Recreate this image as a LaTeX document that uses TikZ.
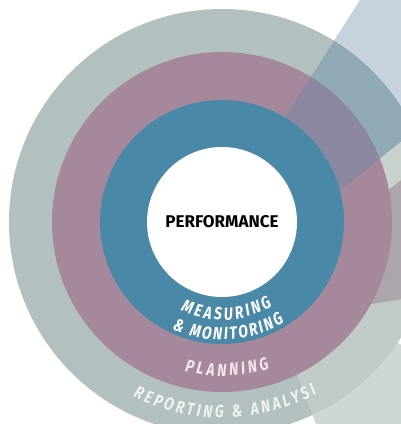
\documentclass[tikz,border=0pt]{standalone}
\usepackage{fontspec}
\setsansfont{Fira Sans}
\newfontfamily\ringfont[FakeStretch=0.8]{Fira Sans}
\usepackage{tikz}
\usetikzlibrary{decorations.text}

\definecolor{ringgrey}{HTML}{B2C0BF}
\definecolor{ringpink}{HTML}{A5889B}
\definecolor{ringblue}{HTML}{4A88A8}
\definecolor{beamblue}{HTML}{C6D3DE}
\definecolor{beamblueongrey}{HTML}{8FAAB4}
\definecolor{beamblueonpink}{HTML}{8B87A0}
\definecolor{beamgreen}{HTML}{C8D2CC}
\definecolor{beammauve}{HTML}{ACA5AC}
\definecolor{beamlight}{HTML}{CFD6D6}
\definecolor{beamlightongrey}{HTML}{C0CAC9}
\definecolor{pinktext}{HTML}{F4E6EE}
\definecolor{greytext}{HTML}{EEF2F2}

\newcommand{\ringtype}{\ringfont\bfseries\itshape\fontsize{17.5pt}{17.5pt}\selectfont}

\tikzset{
  ringlabel/.style={decorate, decoration={text along path, text={#1}, text align=fit to path, text color=white}},
}

\begin{document}
\begin{tikzpicture}[x=1pt, y=1pt, every node/.style={font=\sffamily}]
    \useasboundingbox (-222,-202) rectangle (179,222);

    % beams
    \coordinate (b1a) at (145,233);
    \coordinate (b1b) at (200,233);
    \coordinate (b1c) at (200,97);
    \coordinate (b1d) at (75,-3);
    \coordinate (b1e) at (33,57);
    \coordinate (b2c) at (200,58);
    \coordinate (b2d) at (78,-36);
    \coordinate (b3c) at (200,-74);
    \coordinate (b3d) at (78,-93);
    \coordinate (b4a) at (28,-28);
    \coordinate (b4b) at (208,-141);
    \coordinate (b4c) at (208,-218);
    \coordinate (b4d) at (100,-218);

    \fill [beamblue] (b1a) -- (b1b) -- (b1c) -- (b1d) -- (b1e) -- cycle;
    \fill [beamlight] (b4a) -- (b4b) -- (b4c) -- (b4d) -- cycle;

    % outer ring
    \fill [ringgrey] (0,0) circle (213);
    \begin{scope}
        \clip (0,0) circle (213);
        \fill [beamblueongrey] (b1a) -- (b1b) -- (b1c) -- (b1d) -- (b1e) -- cycle;
        \fill [beamgreen] (b1c) -- (b2c) -- (b2d) -- (b1d) -- cycle;
        \fill [beamlightongrey] (b3d) -- (b3c) -- (b4c) -- (b4d) -- (b4a) -- cycle;
        \fill [beammauve] (b2c) -- (b3c) -- (b3d) -- (b2d) -- cycle;
    \end{scope}

    % middle ring
    \fill [ringpink] (0,0) circle (170);
    \begin{scope}
        \clip (0,0) circle (170);
        \fill [beamblueonpink] (b1a) -- (b1b) -- (b1c) -- (b1d) -- (b1e) -- cycle;
    \end{scope}

    % inner ring and core
    \fill [ringblue] (0,0) circle (122);
    \node [circle, fill=white, minimum size=150pt, inner sep=0pt, font=\sffamily\bfseries\fontsize{17pt}{17pt}\selectfont] (core) at (0,0) {PERFORMANCE};

    % ring labels
    \path [ringlabel={|\ringtype|MEASURING}] (245:98) arc [start angle=245, end angle=301, radius=98];
    \path [ringlabel={|\ringtype|{\&} MONITORING}] (245:118) arc [start angle=245, end angle=302, radius=118];
    \path [ringlabel={|\ringtype|PLANNING}, decoration={text color=pinktext}] (256:154) arc [start angle=256, end angle=288, radius=154];
    \path [ringlabel={|\ringtype|REPORTING {\&} ANALYSI}, decoration={text color=greytext}] (243:196) arc [start angle=243, end angle=299, radius=196];
\end{tikzpicture}
\end{document}
